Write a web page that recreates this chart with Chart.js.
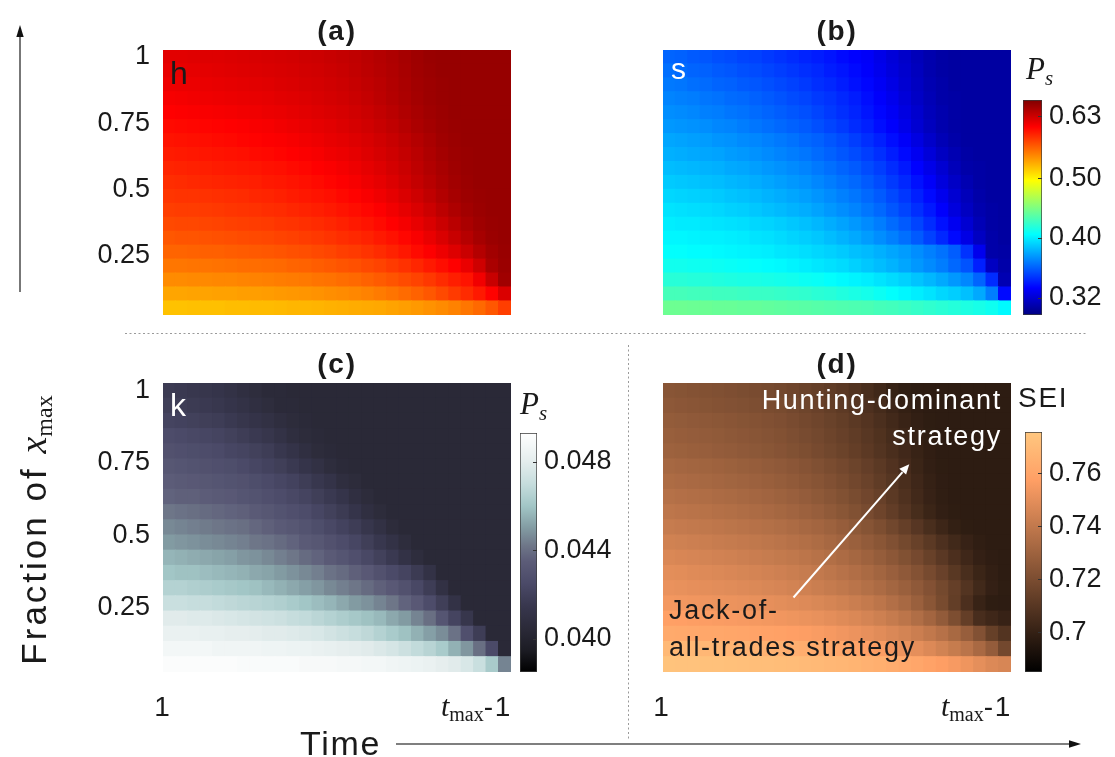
<!DOCTYPE html>
<html><head><meta charset="utf-8">
<script src="https://cdn.jsdelivr.net/npm/chart.js@4.4.1/dist/chart.umd.min.js"></script>
<style>
body{margin:0;background:#fff;}
#wrap{position:relative;width:1115px;height:757px;overflow:hidden;font-family:"Liberation Sans",Arial,sans-serif;color:#1a1a1a;background:#fff;}
#wrap canvas{position:absolute;}
.t{position:absolute;white-space:nowrap;line-height:1;letter-spacing:1.7px;z-index:6;}
.t span{line-height:0;}
.m{font-family:"Liberation Serif","DejaVu Serif",serif;font-style:italic;letter-spacing:0;}
.sb{font-family:"Liberation Serif","DejaVu Serif",serif;letter-spacing:0;position:relative;}
svg{position:absolute;left:0;top:0;z-index:5;pointer-events:none;}
</style></head>
<body><div id="wrap"></div>
<script>
// ---------------- DATA ----------------
const xCols = [1,2,3,4,5,6,7,8,9,10,11,12,13,14,15,16,17,18,19,20,21,22,23,24,25,26,27,28]; // time steps 1 .. tmax-1
const yRows = [0.0526,0.1053,0.1579,0.2105,0.2632,0.3158,0.3684,0.4211,0.4737,0.5263,0.5789,0.6316,0.6842,0.7368,0.7895,0.8421,0.8947,0.9474,1.0]; // fraction of x_max (bottom -> top)
const yTicks = [0.25,0.5,0.75,1];
const yTickLabels = ['0.25','0.5','0.75','1'];

// grids: rows listed from top (fraction 1) to bottom, columns = time steps
const hGrid = [
[.620,.620,.621,.622,.622,.623,.624,.625,.626,.627,.628,.630,.631,.633,.635,.637,.640,.643,.646,.650,.654,.657,.658,.658,.658,.658,.658,.658],
[.617,.617,.618,.619,.620,.621,.622,.623,.624,.625,.626,.628,.629,.631,.633,.636,.639,.642,.645,.649,.653,.656,.658,.658,.658,.658,.658,.658],
[.614,.615,.615,.616,.617,.618,.619,.620,.621,.623,.624,.626,.627,.629,.631,.634,.637,.640,.644,.648,.652,.655,.657,.658,.658,.658,.658,.658],
[.610,.611,.612,.613,.614,.615,.616,.617,.618,.620,.621,.623,.625,.627,.629,.632,.635,.639,.643,.647,.651,.655,.657,.658,.658,.658,.658,.658],
[.606,.607,.608,.609,.610,.611,.612,.613,.615,.616,.618,.620,.622,.624,.626,.629,.632,.636,.640,.645,.649,.653,.656,.658,.658,.658,.658,.658],
[.601,.602,.603,.604,.605,.606,.607,.609,.610,.612,.614,.616,.618,.620,.623,.626,.629,.633,.637,.642,.647,.651,.655,.657,.658,.658,.658,.658],
[.597,.598,.599,.600,.601,.602,.604,.605,.607,.608,.610,.612,.614,.617,.619,.622,.625,.629,.633,.638,.643,.648,.653,.656,.658,.658,.658,.658],
[.593,.594,.595,.596,.597,.598,.599,.601,.602,.604,.606,.608,.610,.613,.615,.618,.622,.626,.630,.635,.640,.646,.651,.655,.657,.658,.658,.658],
[.589,.590,.591,.592,.593,.594,.595,.596,.598,.599,.601,.603,.606,.608,.611,.614,.618,.622,.627,.632,.638,.644,.649,.654,.657,.658,.658,.658],
[.585,.586,.587,.588,.589,.590,.591,.592,.594,.595,.597,.599,.601,.604,.607,.610,.614,.618,.623,.629,.635,.641,.647,.652,.656,.658,.658,.658],
[.581,.582,.582,.583,.584,.585,.586,.588,.589,.591,.593,.595,.597,.599,.602,.605,.609,.613,.618,.624,.630,.637,.644,.650,.655,.657,.658,.658],
[.577,.578,.578,.579,.580,.581,.582,.583,.585,.586,.588,.590,.592,.594,.597,.600,.603,.607,.612,.618,.624,.631,.639,.646,.652,.656,.658,.658],
[.572,.573,.573,.574,.575,.576,.577,.578,.579,.581,.582,.584,.586,.588,.591,.594,.597,.601,.606,.611,.617,.624,.632,.640,.648,.654,.657,.658],
[.566,.567,.567,.568,.569,.570,.571,.572,.573,.575,.576,.578,.580,.582,.585,.587,.590,.594,.598,.603,.609,.616,.624,.633,.642,.650,.656,.658],
[.560,.560,.561,.562,.562,.563,.564,.565,.566,.567,.569,.570,.572,.574,.577,.579,.582,.586,.590,.595,.601,.607,.614,.622,.632,.643,.652,.657],
[.552,.552,.553,.553,.554,.555,.556,.556,.557,.558,.560,.561,.563,.565,.567,.569,.572,.575,.579,.583,.588,.594,.600,.606,.616,.630,.648,.656],
[.543,.543,.544,.544,.545,.545,.546,.547,.548,.549,.550,.551,.553,.554,.556,.558,.561,.564,.567,.571,.575,.580,.586,.592,.597,.612,.633,.653],
[.532,.532,.533,.533,.534,.534,.535,.535,.536,.537,.538,.539,.540,.542,.543,.545,.547,.550,.553,.557,.561,.566,.572,.579,.586,.594,.605,.624],
[.520,.520,.521,.521,.521,.522,.522,.523,.523,.524,.525,.525,.526,.527,.528,.529,.530,.531,.533,.535,.537,.540,.543,.547,.552,.558,.566,.577]
];
const sGrid = [
[.359,.358,.356,.355,.353,.352,.350,.349,.347,.345,.343,.341,.339,.337,.334,.332,.330,.326,.322,.318,.314,.311,.309,.308,.308,.308,.308,.308],
[.362,.361,.359,.358,.356,.355,.353,.352,.350,.348,.346,.344,.342,.339,.337,.334,.331,.327,.323,.319,.315,.311,.309,.308,.308,.308,.308,.308],
[.365,.364,.362,.361,.359,.358,.356,.355,.353,.351,.349,.347,.344,.342,.339,.336,.333,.329,.325,.320,.316,.312,.310,.308,.308,.308,.308,.308],
[.368,.367,.366,.364,.363,.361,.360,.358,.356,.354,.352,.350,.347,.345,.342,.339,.335,.331,.327,.322,.317,.313,.310,.309,.308,.308,.308,.308],
[.371,.370,.369,.367,.366,.364,.363,.361,.359,.357,.355,.353,.350,.347,.344,.341,.337,.333,.329,.324,.319,.314,.311,.309,.308,.308,.308,.308],
[.374,.373,.372,.371,.369,.368,.366,.364,.362,.360,.358,.356,.353,.350,.347,.343,.340,.335,.331,.326,.320,.315,.311,.309,.308,.308,.308,.308],
[.378,.377,.376,.375,.373,.372,.370,.369,.367,.365,.363,.360,.358,.355,.352,.348,.344,.340,.335,.330,.324,.318,.313,.310,.308,.308,.308,.308],
[.381,.380,.379,.378,.377,.375,.374,.372,.370,.368,.366,.364,.361,.358,.355,.352,.348,.344,.339,.334,.328,.322,.316,.312,.309,.308,.308,.308],
[.385,.384,.383,.382,.381,.379,.378,.376,.374,.372,.370,.368,.365,.362,.359,.356,.352,.348,.343,.338,.332,.326,.320,.314,.310,.309,.308,.308],
[.389,.388,.387,.386,.385,.383,.382,.380,.378,.376,.374,.372,.369,.366,.363,.360,.356,.352,.347,.342,.336,.330,.323,.317,.312,.309,.308,.308],
[.393,.392,.391,.390,.389,.387,.386,.384,.382,.380,.378,.376,.373,.370,.367,.364,.360,.356,.351,.346,.340,.334,.327,.320,.314,.310,.308,.308],
[.397,.396,.395,.394,.393,.391,.390,.388,.386,.384,.382,.380,.377,.374,.371,.368,.364,.360,.355,.350,.344,.338,.331,.323,.316,.311,.309,.308],
[.400,.399,.399,.398,.397,.396,.395,.393,.392,.390,.388,.386,.383,.380,.377,.374,.370,.366,.361,.356,.350,.343,.336,.328,.320,.313,.309,.308],
[.403,.403,.402,.401,.401,.400,.399,.397,.396,.394,.392,.390,.388,.385,.382,.379,.375,.371,.367,.362,.356,.349,.342,.334,.325,.316,.310,.308],
[.406,.406,.405,.405,.404,.403,.402,.401,.400,.398,.397,.395,.393,.391,.389,.386,.384,.381,.378,.375,.371,.367,.363,.357,.345,.327,.310,.309],
[.411,.411,.410,.410,.409,.408,.407,.406,.405,.404,.402,.400,.398,.396,.394,.391,.388,.385,.382,.378,.374,.370,.366,.360,.354,.340,.316,.310],
[.418,.418,.417,.417,.416,.415,.414,.414,.413,.412,.411,.409,.408,.406,.404,.402,.400,.397,.394,.391,.387,.383,.379,.374,.369,.359,.343,.312],
[.428,.428,.427,.427,.426,.426,.425,.424,.424,.423,.422,.421,.419,.418,.416,.414,.412,.409,.406,.403,.400,.397,.393,.390,.386,.379,.366,.334],
[.442,.442,.441,.441,.440,.440,.439,.439,.438,.437,.436,.435,.434,.433,.432,.431,.430,.428,.427,.425,.423,.421,.419,.417,.415,.413,.410,.404]
];
const kGrid = [
[.0417,.0416,.0415,.0414,.0413,.0411,.0409,.0407,.0405,.0405,.0404,.0404,.0404,.0404,.0404,.0404,.0404,.0404,.0404,.0404,.0404,.0404,.0404,.0404,.0404,.0404,.0404,.0404],
[.0419,.0418,.0417,.0416,.0415,.0413,.0411,.0409,.0407,.0405,.0405,.0404,.0404,.0404,.0404,.0404,.0404,.0404,.0404,.0404,.0404,.0404,.0404,.0404,.0404,.0404,.0404,.0404],
[.0422,.0421,.0420,.0419,.0418,.0416,.0414,.0412,.0410,.0408,.0406,.0405,.0404,.0404,.0404,.0404,.0404,.0404,.0404,.0404,.0404,.0404,.0404,.0404,.0404,.0404,.0404,.0404],
[.0426,.0425,.0424,.0423,.0422,.0420,.0418,.0416,.0414,.0411,.0408,.0406,.0405,.0404,.0404,.0404,.0404,.0404,.0404,.0404,.0404,.0404,.0404,.0404,.0404,.0404,.0404,.0404],
[.0429,.0428,.0427,.0426,.0425,.0423,.0422,.0420,.0418,.0415,.0412,.0409,.0406,.0405,.0404,.0404,.0404,.0404,.0404,.0404,.0404,.0404,.0404,.0404,.0404,.0404,.0404,.0404],
[.0432,.0431,.0430,.0429,.0428,.0427,.0425,.0423,.0421,.0419,.0416,.0413,.0410,.0407,.0405,.0404,.0404,.0404,.0404,.0404,.0404,.0404,.0404,.0404,.0404,.0404,.0404,.0404],
[.0435,.0434,.0433,.0432,.0431,.0430,.0429,.0427,.0425,.0423,.0421,.0418,.0415,.0412,.0408,.0406,.0404,.0404,.0404,.0404,.0404,.0404,.0404,.0404,.0404,.0404,.0404,.0404],
[.0437,.0436,.0436,.0435,.0434,.0433,.0431,.0430,.0428,.0426,.0424,.0422,.0419,.0416,.0413,.0409,.0406,.0404,.0404,.0404,.0404,.0404,.0404,.0404,.0404,.0404,.0404,.0404],
[.0442,.0441,.0440,.0439,.0438,.0437,.0436,.0434,.0432,.0430,.0428,.0426,.0423,.0420,.0417,.0413,.0409,.0406,.0404,.0404,.0404,.0404,.0404,.0404,.0404,.0404,.0404,.0404],
[.0446,.0445,.0444,.0443,.0442,.0441,.0440,.0438,.0436,.0434,.0432,.0430,.0427,.0424,.0421,.0418,.0414,.0410,.0406,.0404,.0404,.0404,.0404,.0404,.0404,.0404,.0404,.0404],
[.0450,.0449,.0448,.0447,.0446,.0445,.0444,.0442,.0441,.0439,.0437,.0434,.0432,.0429,.0426,.0423,.0419,.0415,.0411,.0407,.0404,.0404,.0404,.0404,.0404,.0404,.0404,.0404],
[.0456,.0455,.0454,.0453,.0452,.0451,.0449,.0448,.0446,.0444,.0442,.0439,.0437,.0434,.0431,.0428,.0424,.0420,.0416,.0411,.0407,.0404,.0404,.0404,.0404,.0404,.0404,.0404],
[.0460,.0459,.0459,.0458,.0457,.0456,.0455,.0453,.0452,.0450,.0448,.0446,.0444,.0441,.0439,.0436,.0433,.0429,.0425,.0422,.0417,.0411,.0404,.0404,.0404,.0404,.0404,.0404],
[.0465,.0465,.0464,.0463,.0462,.0461,.0460,.0459,.0457,.0455,.0453,.0451,.0449,.0446,.0444,.0442,.0439,.0436,.0433,.0429,.0424,.0418,.0410,.0404,.0404,.0404,.0404,.0404],
[.0471,.0471,.0470,.0470,.0469,.0468,.0467,.0466,.0465,.0464,.0462,.0460,.0458,.0456,.0453,.0450,.0448,.0445,.0442,.0437,.0433,.0426,.0419,.0411,.0404,.0404,.0404,.0404],
[.0479,.0479,.0478,.0478,.0477,.0476,.0475,.0474,.0473,.0472,.0470,.0469,.0467,.0465,.0463,.0461,.0459,.0457,.0453,.0450,.0445,.0440,.0431,.0422,.0414,.0404,.0404,.0404],
[.0483,.0483,.0483,.0482,.0482,.0481,.0481,.0480,.0479,.0479,.0478,.0477,.0476,.0474,.0472,.0470,.0468,.0465,.0462,.0459,.0455,.0451,.0447,.0441,.0428,.0418,.0404,.0404],
[.0487,.0487,.0487,.0487,.0486,.0486,.0486,.0486,.0485,.0485,.0484,.0484,.0483,.0482,.0481,.0480,.0479,.0477,.0475,.0472,.0469,.0466,.0462,.0455,.0449,.0440,.0425,.0404],
[.0491,.0491,.0491,.0491,.0491,.0491,.0490,.0490,.0490,.0490,.0490,.0489,.0489,.0489,.0488,.0488,.0487,.0487,.0486,.0485,.0484,.0483,.0481,.0479,.0476,.0471,.0462,.0445]
];
const seiGrid = [
[.7237,.7231,.7225,.7219,.7213,.7207,.7200,.7193,.7186,.7178,.7165,.7152,.7138,.7122,.7105,.7082,.7058,.7032,.7003,.6985,.6979,.6977,.6977,.6977,.6977,.6977,.6977,.6977],
[.7250,.7244,.7238,.7232,.7226,.7220,.7213,.7206,.7198,.7190,.7177,.7163,.7148,.7132,.7115,.7093,.7070,.7045,.7020,.6997,.6984,.6978,.6977,.6977,.6977,.6977,.6977,.6977],
[.7269,.7263,.7257,.7251,.7245,.7238,.7231,.7224,.7216,.7207,.7194,.7180,.7165,.7149,.7131,.7110,.7088,.7063,.7037,.7011,.6991,.6981,.6977,.6977,.6977,.6977,.6977,.6977],
[.7282,.7276,.7270,.7264,.7258,.7251,.7244,.7236,.7228,.7219,.7206,.7192,.7177,.7161,.7143,.7122,.7100,.7076,.7050,.7024,.7000,.6985,.6978,.6977,.6977,.6977,.6977,.6977],
[.7296,.7290,.7284,.7278,.7271,.7264,.7257,.7249,.7240,.7230,.7218,.7204,.7189,.7172,.7154,.7133,.7111,.7087,.7061,.7034,.7008,.6988,.6979,.6977,.6977,.6977,.6977,.6977],
[.7323,.7317,.7311,.7305,.7298,.7291,.7283,.7275,.7266,.7256,.7244,.7230,.7215,.7198,.7179,.7158,.7134,.7108,.7079,.7048,.7017,.6993,.6980,.6977,.6977,.6977,.6977,.6977],
[.7341,.7335,.7329,.7323,.7316,.7309,.7301,.7293,.7284,.7274,.7262,.7248,.7233,.7216,.7197,.7175,.7151,.7124,.7094,.7061,.7028,.7000,.6983,.6978,.6977,.6977,.6977,.6977],
[.7364,.7358,.7352,.7346,.7339,.7332,.7324,.7316,.7307,.7297,.7285,.7271,.7255,.7237,.7217,.7195,.7170,.7142,.7110,.7075,.7039,.7007,.6986,.6978,.6977,.6977,.6977,.6977],
[.7387,.7381,.7375,.7369,.7362,.7355,.7347,.7339,.7330,.7320,.7308,.7294,.7278,.7260,.7240,.7217,.7191,.7162,.7129,.7092,.7053,.7017,.6991,.6980,.6977,.6977,.6977,.6977],
[.7414,.7408,.7402,.7396,.7389,.7382,.7375,.7367,.7359,.7350,.7339,.7326,.7312,.7296,.7276,.7255,.7231,.7205,.7172,.7138,.7098,.7058,.7022,.6996,.6982,.6977,.6977,.6977],
[.7442,.7436,.7430,.7424,.7417,.7410,.7403,.7395,.7387,.7378,.7367,.7355,.7341,.7326,.7308,.7288,.7266,.7241,.7213,.7181,.7146,.7108,.7070,.7035,.7005,.6986,.6978,.6977],
[.7469,.7463,.7457,.7451,.7444,.7437,.7430,.7422,.7414,.7405,.7395,.7383,.7370,.7355,.7338,.7319,.7298,.7274,.7247,.7217,.7184,.7147,.7107,.7066,.7028,.6998,.6983,.6977],
[.7496,.7491,.7485,.7479,.7473,.7466,.7459,.7452,.7444,.7435,.7425,.7414,.7401,.7387,.7371,.7353,.7333,.7310,.7285,.7256,.7224,.7188,.7148,.7104,.7058,.7018,.6991,.6978],
[.7514,.7509,.7504,.7499,.7493,.7487,.7480,.7473,.7465,.7457,.7448,.7437,.7425,.7411,.7396,.7379,.7360,.7338,.7314,.7287,.7256,.7221,.7181,.7136,.7086,.7035,.6998,.6980],
[.7542,.7538,.7534,.7530,.7525,.7520,.7515,.7509,.7503,.7496,.7488,.7479,.7468,.7456,.7442,.7425,.7406,.7383,.7357,.7328,.7288,.7241,.7190,.7132,.7065,.7008,.6980,.6977],
[.7578,.7574,.7570,.7566,.7562,.7557,.7552,.7547,.7541,.7534,.7527,.7518,.7509,.7498,.7485,.7470,.7453,.7433,.7410,.7383,.7351,.7312,.7264,.7205,.7133,.7055,.7030,.7005],
[.7623,.7620,.7617,.7613,.7609,.7605,.7600,.7595,.7589,.7583,.7576,.7568,.7559,.7548,.7536,.7522,.7507,.7490,.7471,.7450,.7426,.7398,.7366,.7327,.7280,.7220,.7140,.7087],
[.7692,.7689,.7686,.7683,.7679,.7675,.7671,.7666,.7661,.7655,.7648,.7640,.7631,.7621,.7609,.7596,.7581,.7564,.7545,.7524,.7500,.7474,.7445,.7413,.7378,.7330,.7270,.7178],
[.7737,.7735,.7733,.7730,.7727,.7724,.7721,.7717,.7713,.7709,.7704,.7698,.7692,.7685,.7677,.7668,.7658,.7647,.7635,.7622,.7607,.7590,.7571,.7551,.7528,.7502,.7475,.7462]
];
const psTicks = [0.32,0.40,0.50,0.63];
const psTickLabels = ['0.32','0.40','0.50','0.63'];
const kTicks = [0.040,0.044,0.048];
const kTickLabels = ['0.040','0.044','0.048'];
const seiTicks = [0.70,0.72,0.74,0.76];
const seiTickLabels = ['0.7','0.72','0.74','0.76'];

// ---------------- COLOUR MAPS ----------------
const JET = [[0,[0,0,128]],[0.125,[0,0,255]],[0.375,[0,255,255]],[0.625,[255,255,0]],[0.875,[255,0,0]],[1,[128,0,0]]];
const COPPER = [[0,[0,0,0]],[0.8,[255,159,101]],[1,[255,199,127]]];
const K_LO = 0.0385, K_HI = 0.0493;
const KMAP = [[0.0385,[0,0,0]],[0.0395,[28,28,36]],[0.0404,[42,41,55]],[0.0415,[56,55,78]],[0.0425,[75,74,104]],[0.0435,[92,92,120]],[0.0442,[110,118,136]],[0.0450,[130,155,162]],[0.0460,[162,198,198]],[0.0470,[198,221,221]],[0.0480,[228,237,237]],[0.0493,[255,255,255]]]
  .map(s => [(s[0]-K_LO)/(K_HI-K_LO), s[1]]);

const CB_PS  = {type:'logarithmic', min:0.30, max:0.67, stops:JET, norm:v=>Math.log(v/0.30)/Math.log(0.67/0.30)};
const CB_K   = {type:'linear', min:K_LO, max:K_HI, stops:KMAP, norm:v=>(v-K_LO)/(K_HI-K_LO)};
const CB_SEI = {type:'linear', min:0.685, max:0.7756, stops:COPPER, norm:v=>(v-0.685)/(0.7756-0.685)};

function lerpStops(stops, t){
  t = Math.max(0, Math.min(1, t));
  for (let i=1;i<stops.length;i++){
    if (t <= stops[i][0]) {
      const a = stops[i-1], b = stops[i];
      const f = (t-a[0])/((b[0]-a[0])||1);
      return [0,1,2].map(k => a[1][k] + (b[1][k]-a[1][k])*f);
    }
  }
  return stops[stops.length-1][1];
}
const rgb = c => `rgb(${Math.round(c[0])},${Math.round(c[1])},${Math.round(c[2])})`;

// ---------------- CHARTS ----------------
const WRAP = document.getElementById('wrap');
Chart.defaults.font.family = '"Liberation Sans", Arial, sans-serif';
Chart.defaults.color = '#1a1a1a';

function addCanvas(left, top, w, h){
  const cv = document.createElement('canvas');
  cv.width = w; cv.height = h;
  cv.style.left = left + 'px'; cv.style.top = top + 'px';
  cv.style.width = w + 'px'; cv.style.height = h + 'px';
  WRAP.appendChild(cv);
  return cv;
}

function heatmap(rect, grid, cb, showY){
  const axisW = 70, padL = showY ? 120 : 0, padT = 40, padB = 40;
  const cv = addCanvas(rect.x - padL, rect.y - padT, rect.w + padL, rect.h + padT + padB);
  const n = yRows.length;
  const half = (yRows[1] - yRows[0]) / 2;
  const datasets = yRows.map((yv, i) => {
    const row = grid[n - 1 - i];
    return {
      data: row.map(() => [yv - half, yv + half]),
      backgroundColor: row.map(v => rgb(lerpStops(cb.stops, cb.norm(v)))),
      borderWidth: 0,
      barPercentage: 1, categoryPercentage: 1, grouped: false, inflateAmount: 0.6
    };
  });
  const yScale = {
    type: 'linear', display: showY,
    min: yRows[0] - half, max: yRows[n-1] + half,
    grid: { display: false, drawTicks: false }, border: { display: false },
    afterBuildTicks: s => { s.ticks = yTicks.map(v => ({ value: v })); },
    ticks: { padding: 13, color: '#1a1a1a', font: { size: 27 },
             callback: (v, i) => yTickLabels[i] }
  };
  if (showY) yScale.afterFit = s => { s.width = axisW; };
  new Chart(cv, {
    type: 'bar',
    data: { labels: xCols, datasets },
    options: {
      responsive: false, animation: false, devicePixelRatio: 1,
      layout: { padding: { left: showY ? padL - axisW : 0, top: padT, right: 0, bottom: padB } },
      plugins: { legend: { display: false }, tooltip: { enabled: false } },
      scales: {
        x: { type: 'category', display: false, offset: true, grid: { display: false } },
        y: yScale
      }
    }
  });
}

const innerTicks = {
  id: 'innerTicks',
  afterDatasetsDraw(chart){
    const s = chart.scales.y, ca = chart.chartArea, c = chart.ctx;
    c.save(); c.strokeStyle = '#333'; c.lineWidth = 1;
    s.ticks.forEach(t => {
      const y = Math.round(s.getPixelForValue(t.value)) + 0.5;
      c.beginPath(); c.moveTo(ca.right - 4, y); c.lineTo(ca.right, y); c.stroke();
    });
    c.restore();
  }
};

function colorbar(rect, cb, ticks, labels){
  const axisW = 90, padT = 40, padB = 40;
  const cv = addCanvas(rect.x, rect.y - padT, rect.w + axisW, rect.h + padT + padB);
  new Chart(cv, {
    type: 'bar',
    data: { labels: [''], datasets: [{
      data: [[cb.min, cb.max]],
      backgroundColor: ctx => {
        const ca = ctx.chart.chartArea;
        if (!ca) return 'rgba(0,0,0,0)';
        const g = ctx.chart.ctx.createLinearGradient(0, ca.bottom, 0, ca.top);
        cb.stops.forEach(s => g.addColorStop(s[0], rgb(s[1])));
        return g;
      },
      borderColor: '#3a3a3a', borderWidth: 1, borderSkipped: false,
      barPercentage: 1, categoryPercentage: 1
    }]},
    options: {
      responsive: false, animation: false, devicePixelRatio: 1,
      layout: { padding: { left: 0, right: 0, top: padT, bottom: padB } },
      plugins: { legend: { display: false }, tooltip: { enabled: false } },
      scales: {
        x: { display: false, offset: true, grid: { display: false } },
        y: {
          type: cb.type, position: 'right', min: cb.min, max: cb.max,
          grid: { display: false, drawTicks: false }, border: { display: false },
          afterFit: s => { s.width = axisW; },
          afterBuildTicks: s => { s.ticks = ticks.map(v => ({ value: v })); },
          ticks: { padding: 7, color: '#1a1a1a', font: { size: 27 }, callback: (v, i) => labels[i] }
        }
      }
    },
    plugins: [innerTicks]
  });
}

heatmap({x:163, y:50,  w:348, h:265}, hGrid,   CB_PS,  true);
heatmap({x:663, y:50,  w:348, h:265}, sGrid,   CB_PS,  false);
heatmap({x:163, y:383, w:348, h:289}, kGrid,   CB_K,   true);
heatmap({x:663, y:383, w:348, h:289}, seiGrid, CB_SEI, false);
colorbar({x:1023, y:100, w:19, h:215}, CB_PS,  psTicks,  psTickLabels);
colorbar({x:520,  y:433, w:17, h:239}, CB_K,   kTicks,   kTickLabels);
colorbar({x:1025, y:432, w:17, h:240}, CB_SEI, seiTicks, seiTickLabels);

// ---------------- TEXT ----------------
function text(html, x, baseline, o){
  o = o || {};
  const size = o.size || 27;
  const d = document.createElement('div');
  d.className = 't';
  d.innerHTML = html;
  d.style.fontSize = size + 'px';
  d.style.left = x + 'px';
  d.style.top = (baseline - 0.8465*size) + 'px';
  if (o.color) d.style.color = o.color;
  if (o.bold) d.style.fontWeight = 'bold';
  if (o.align === 'center') d.style.transform = 'translateX(-50%)';
  if (o.align === 'right') d.style.transform = 'translateX(-100%)';
  WRAP.appendChild(d);
  return d;
}
const PS = '<span class="m" style="font-size:31px">P</span><span class="m" style="font-size:21px;top:6px;position:relative">s</span>';
const TMAX = '<span class="m" style="font-size:30px">t</span><span class="sb" style="font-size:20px;top:5px">max</span>-1';

text('(a)', 337, 41, {size:28, bold:true, align:'center'});
text('(b)', 837, 41, {size:28, bold:true, align:'center'});
text('(c)', 337, 374, {size:28, bold:true, align:'center'});
text('(d)', 837, 374, {size:28, bold:true, align:'center'});
text('h', 170, 84, {size:32});
text('s', 671, 79, {size:30, color:'#fff'});
text('k', 170, 416, {size:32, color:'#fff'});
text(PS, 1026, 80);
text(PS, 520, 415);
text('SEI', 1018, 408, {size:28});
text('Hunting-dominant', 1002, 410, {color:'#fff', align:'right'});
text('strategy', 1002, 446, {color:'#fff', align:'right'});
text('Jack-of-', 669, 620);
text('all-trades strategy', 669, 657);
text('1', 163, 717, {size:28, align:'center'});
text('1', 662, 717, {size:28, align:'center'});
text(TMAX, 512, 717, {size:28, align:'right'});
text(TMAX, 1012, 717, {size:28, align:'right'});
text('Time', 300, 755, {size:34});
const fr = text('Fraction of <span class="m" style="font-size:38px">x</span><span class="sb" style="font-size:24px;top:6px">max</span>', 33, 0, {size:35});
fr.style.letterSpacing = '3px';
fr.style.top = '530px';
fr.style.transform = 'translate(-50%,-50%) rotate(-90deg)';
</script>
<svg width="1115" height="757" viewBox="0 0 1115 757">
  <line x1="125" y1="333.5" x2="1087" y2="333.5" stroke="#9a9a9a" stroke-width="1" stroke-dasharray="2,2.5"/>
  <line x1="628.5" y1="345" x2="628.5" y2="740" stroke="#9a9a9a" stroke-width="1" stroke-dasharray="2,2.5"/>
  <line x1="20" y1="292" x2="20" y2="36" stroke="#555" stroke-width="1.6"/>
  <polygon points="20,25 16.3,37 23.7,37" fill="#111"/>
  <line x1="396" y1="744" x2="1069" y2="744" stroke="#555" stroke-width="1.6"/>
  <polygon points="1081,744 1069,740.3 1069,747.7" fill="#111"/>
  <line x1="793.5" y1="597.5" x2="902.5" y2="472.2" stroke="#fff" stroke-width="2"/>
  <polygon points="909.3,464.3 906.1,474.6 899.3,468.7" fill="#fff"/>
</svg>
</body></html>
